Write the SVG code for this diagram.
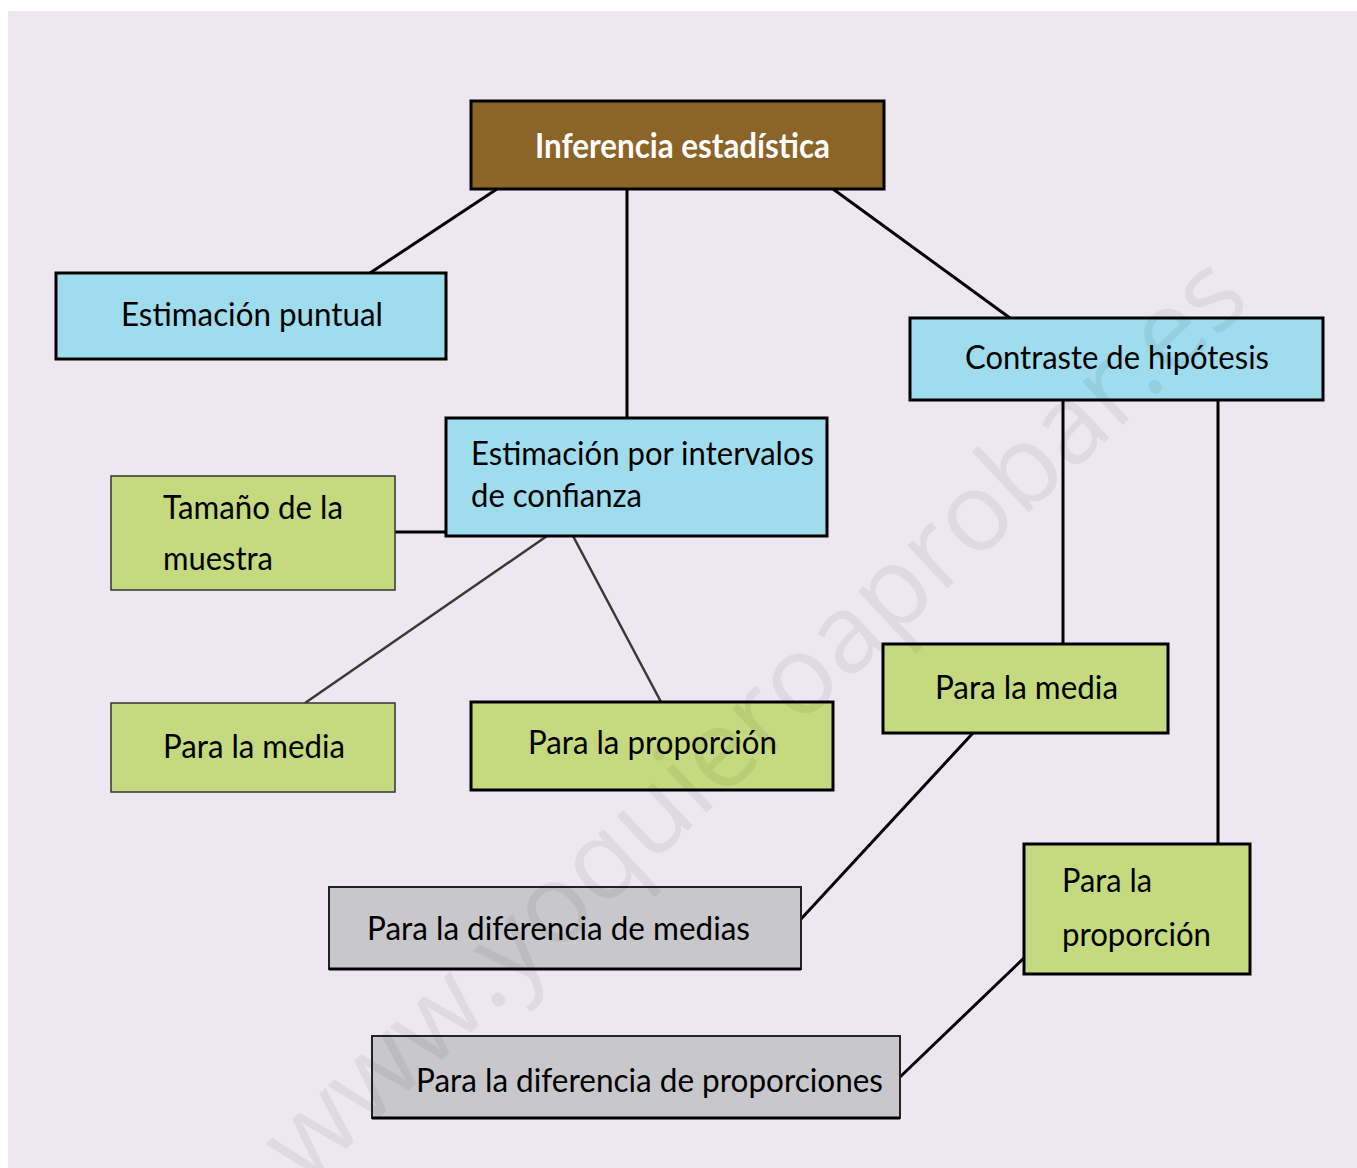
<svg xmlns="http://www.w3.org/2000/svg" width="1357" height="1168" viewBox="0 0 1357 1168">
<style>
.t{font-family:Lato,"Open Sans","Liberation Sans",sans-serif;font-size:32px;fill:#000}
.tb{font-family:Lato,"Open Sans","Liberation Sans",sans-serif;font-size:34px;font-weight:bold;fill:#fff}
.blue{fill:#9EDCEE;stroke:#000;stroke-width:3}
.green{fill:#C5D97E;stroke:#000;stroke-width:3}
.greenthin{fill:#C5D97E;stroke:#333;stroke-width:1.5}
.gray{fill:#C8C7CC;stroke:#222;stroke-width:2}
.brown{fill:#8B6428;stroke:#000;stroke-width:3}
.c{stroke:#000;stroke-width:3;fill:none}
.cg{stroke:#3b3731;stroke-width:2.5;fill:none}
.wm{font-family:"Open Sans","Liberation Sans",sans-serif;font-size:110px;fill:#000;fill-opacity:0.06}
</style>
<rect x="0" y="0" width="1357" height="1168" fill="#fff"/>
<rect x="8" y="11" width="1349" height="1157" fill="#EDE7F2"/>
<g id="connectors">
<line class="c" x1="497" y1="189" x2="370" y2="273"/>
<line class="c" x1="627" y1="189" x2="627" y2="418"/>
<line class="c" x1="833" y1="189" x2="1010" y2="318"/>
<line class="c" x1="395" y1="532" x2="446" y2="532"/>
<line class="cg" x1="547" y1="536" x2="305" y2="703"/>
<line class="cg" x1="573" y1="536" x2="661" y2="702" stroke-width="2"/>
<line class="c" x1="1063" y1="400" x2="1063" y2="644"/>
<line class="c" x1="1218" y1="400" x2="1218" y2="844"/>
<line class="c" x1="973" y1="733" x2="801" y2="919" stroke-width="2.5"/>
<line class="c" x1="1024" y1="958" x2="900" y2="1077" stroke-width="2.5"/>
</g>
<g id="n-inferencia">
<rect class="brown" x="471" y="101" width="413" height="88"/>
<text class="tb" x="535" y="158" textLength="295" lengthAdjust="spacingAndGlyphs">Inferencia estadística</text>
</g>
<g id="n-puntual">
<rect class="blue" x="56" y="273" width="390" height="86"/>
<text class="t" x="121" y="326" textLength="262" lengthAdjust="spacingAndGlyphs">Estimación puntual</text>
</g>
<g id="n-contraste">
<rect class="blue" x="910" y="318" width="413" height="82"/>
<text class="t" x="965" y="369" textLength="304" lengthAdjust="spacingAndGlyphs">Contraste de hipótesis</text>
</g>
<g id="n-intervalos">
<rect class="blue" x="446" y="418" width="381" height="118"/>
<text class="t" x="471" y="465" textLength="343" lengthAdjust="spacingAndGlyphs">Estimación por intervalos</text>
<text class="t" x="471" y="507" textLength="171" lengthAdjust="spacingAndGlyphs">de confianza</text>
</g>
<g id="n-tamano">
<rect class="greenthin" x="111" y="476" width="284" height="114"/>
<text class="t" x="163" y="519" textLength="180" lengthAdjust="spacingAndGlyphs">Tamaño de la</text>
<text class="t" x="163" y="570" textLength="110" lengthAdjust="spacingAndGlyphs">muestra</text>
</g>
<g id="n-media-ic">
<rect class="greenthin" x="111" y="703" width="284" height="89"/>
<text class="t" x="163" y="758" textLength="182" lengthAdjust="spacingAndGlyphs">Para la media</text>
</g>
<g id="n-proporcion-ic">
<rect class="green" x="471" y="702" width="362" height="88"/>
<text class="t" x="528" y="754" textLength="249" lengthAdjust="spacingAndGlyphs">Para la proporción</text>
</g>
<g id="n-media-ch">
<rect class="green" x="883" y="644" width="285" height="89"/>
<text class="t" x="935" y="699" textLength="183" lengthAdjust="spacingAndGlyphs">Para la media</text>
</g>
<g id="n-proporcion-ch">
<rect class="green" x="1024" y="844" width="226" height="130"/>
<text class="t" x="1062" y="892" textLength="90" lengthAdjust="spacingAndGlyphs">Para la</text>
<text class="t" x="1062" y="946" textLength="149" lengthAdjust="spacingAndGlyphs">proporción</text>
</g>
<g id="n-dif-medias">
<rect class="gray" x="329" y="887" width="472" height="82"/>
<line x1="329" y1="969" x2="801" y2="969" stroke="#000" stroke-width="3"/>
<text class="t" x="367" y="940" textLength="383" lengthAdjust="spacingAndGlyphs">Para la diferencia de medias</text>
</g>
<g id="n-dif-proporciones">
<rect class="gray" x="372" y="1036" width="528" height="82"/>
<line x1="372" y1="1118" x2="900" y2="1118" stroke="#000" stroke-width="3"/>
<text class="t" x="416" y="1092" textLength="467" lengthAdjust="spacingAndGlyphs">Para la diferencia de proporciones</text>
</g>
<text class="wm" x="755" y="755" text-anchor="middle" transform="rotate(-43 755 720)">www.yoquieroaprobar.es</text>
</svg>
